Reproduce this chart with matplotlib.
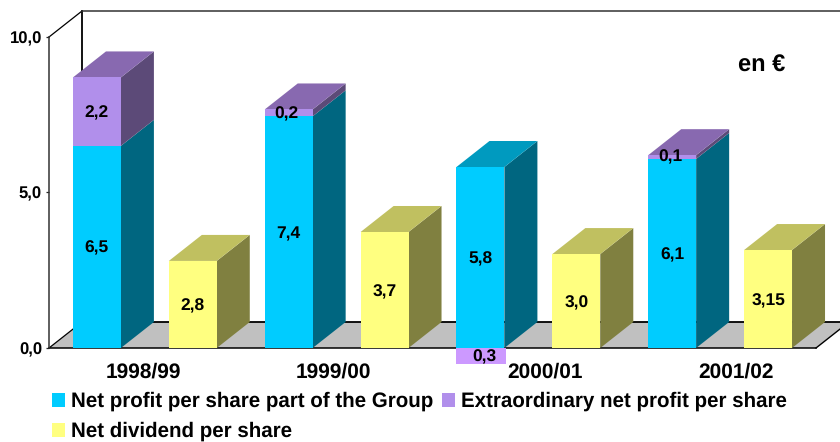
import matplotlib
matplotlib.use("Agg")
import matplotlib.pyplot as plt
from matplotlib.patches import Polygon, Rectangle

plt.rcParams["font.family"] = ["Liberation Sans", "DejaVu Sans"]
plt.rcParams["font.weight"] = "bold"
plt.rcParams["text.hinting"] = "no_hinting"

# Chart data.
periods         = ["1998/99", "1999/00", "2000/01", "2001/02"]
netProfit       = [6.5, 7.45, 5.82, 6.08]
extraProfit     = [2.2, 0.22, -0.5, 0.12]
dividend        = [2.8, 3.73, 3.02, 3.15]
netProfitText   = ["6,5", "7,4", "5,8", "6,1"]
extraProfitText = ["2,2", "0,2", "0,3", "0,1"]
dividendText    = ["2,8", "3,7", "3,0", "3,15"]
yTicks          = [0, 5, 10]
yTickText       = ["0,0", "5,0", "10,0"]

# Pixel geometry of the front plane of the plot.
figWidth, figHeight = 840, 442
left, right, top, bottom = 49, 816, 37, 348
pxPerX = (right - left) / 4
pxPerY = (bottom - top) / 10
depthX = 33 / pxPerX
depthY = 26 / pxPerY
barWidth = 0.25
textDrop = 1.5 / pxPerY

blue, blueSide, blueTop       = "#00CCFF", "#006680", "#009ABF"
purple, purpleSide, purpleTop = "#B18FEB", "#5C4A78", "#8869B0"
yellow, yellowSide, yellowTop = "#FFFF80", "#808040", "#C0C060"


def DrawBox(axis, x, y0, y1, front, side, topColor=None):
    axis.add_patch(Polygon([(x + barWidth, y0), (x + barWidth + depthX, y0 + depthY),
                            (x + barWidth + depthX, y1 + depthY), (x + barWidth, y1)],
                           facecolor=side, edgecolor="none", clip_on=False, zorder=3))
    axis.add_patch(Rectangle((x, y0), barWidth, y1 - y0, facecolor=front, edgecolor="none",
                             clip_on=False, zorder=4))
    if topColor is not None:
        axis.add_patch(Polygon([(x, y1), (x + barWidth, y1), (x + barWidth + depthX, y1 + depthY),
                                (x + depthX, y1 + depthY)],
                               facecolor=topColor, edgecolor="none", clip_on=False, zorder=3))


figure = plt.figure(figsize=(figWidth / 100, figHeight / 100), dpi=100)
axis = figure.add_axes([left / figWidth, 1 - bottom / figHeight,
                        (right - left) / figWidth, (bottom - top) / figHeight])
axis.set(xlim=(0, 4), ylim=(0, 10))
axis.patch.set_visible(False)

for name in ["top", "right", "bottom"]:
    axis.spines[name].set_visible(False)
axis.spines["left"].set_color("#333333")
axis.spines["left"].set_linewidth(1.1)

axis.set_yticks(yTicks, yTickText, fontsize=12)
axis.tick_params(axis="y", length=2, width=0.9, color="#222222", pad=3)

# The category labels do not sit centred on the groups in the original.
labelPixels = [143, 333, 545, 736]
axis.set_xticks([(p - left) / pxPerX for p in labelPixels], periods, fontsize=15)
axis.tick_params(axis="x", length=0, pad=10)

# Floor and back wall.
axis.add_patch(Polygon([(0, 0), (4, 0), (4 + depthX, depthY), (depthX, depthY)], facecolor="#C0C0C0",
                       edgecolor="none", clip_on=False, zorder=1))
line = dict(clip_on=False, zorder=2, solid_capstyle="projecting")
axis.plot([0, 4], [0, 0], color="black", lw=1.1, **line)
axis.plot([4, 4 + depthX], [0, depthY], color="black", lw=1.0, **line)
axis.plot([0, depthX], [0, depthY], color="black", lw=0.9, **line)
axis.plot([depthX, 4 + depthX], [depthY, depthY], color="black", lw=1.3, **line)
axis.plot([0, depthX], [10, 10 + depthY], color="black", lw=0.9, **line)
axis.plot([depthX, depthX], [depthY, 10 + depthY], color="black", lw=1.3, **line)
axis.plot([depthX, 4 + depthX], [10 + depthY, 10 + depthY], color="#333333", lw=1.1, **line)

label = dict(ha="center", va="center", fontsize=12.5, zorder=6, clip_on=False)

for i in range(len(periods)):
    x = i + 0.125

    if extraProfit[i] > 0:
        DrawBox(axis, x, 0, netProfit[i], blue, blueSide)
        DrawBox(axis, x, netProfit[i], netProfit[i] + extraProfit[i], purple, purpleSide, purpleTop)
        labelY = netProfit[i] + max(extraProfit[i] / 2, 0.1)
        labelX = x + barWidth / 2
        if extraProfit[i] < 1:
            labelX -= 2 / pxPerX
    else:
        DrawBox(axis, x, 0, netProfit[i], blue, blueSide, blueTop)
        axis.add_patch(Rectangle((x, extraProfit[i]), barWidth + 2 / pxPerX, -extraProfit[i],
                                 facecolor="#CC99FF", edgecolor="none", clip_on=False, zorder=4))
        labelY = extraProfit[i] / 2
        labelX = x + barWidth / 2 + 4 / pxPerX

    axis.text(x + barWidth / 2, netProfit[i] / 2 - textDrop, netProfitText[i], **label)
    axis.text(labelX, labelY - textDrop, extraProfitText[i], **label)

    x = i + 0.625
    DrawBox(axis, x, 0, dividend[i], yellow, yellowSide, yellowTop)
    axis.text(x + barWidth / 2, dividend[i] / 2 - textDrop, dividendText[i], **label)

figure.text(738 / figWidth, 1 - 66 / figHeight, "en €", fontsize=17, ha="left", va="center")

# Legend laid out by hand: two entries on the first row, one on the second.
entries = [("Net profit per share part of the Group", blue, 52, 400),
           ("Extraordinary net profit per share", purple, 442, 400),
           ("Net dividend per share", yellow, 52, 430)]
for text, color, x, y in entries:
    figure.add_artist(Rectangle((x / figWidth, 1 - (y + 7) / figHeight), 13 / figWidth, 14 / figHeight,
                                facecolor=color, edgecolor="none", transform=figure.transFigure))
    figure.text((x + 19) / figWidth, 1 - (y + 1) / figHeight, text, fontsize=14.8, ha="left", va="center")

figure.savefig("out.png", dpi=100)
